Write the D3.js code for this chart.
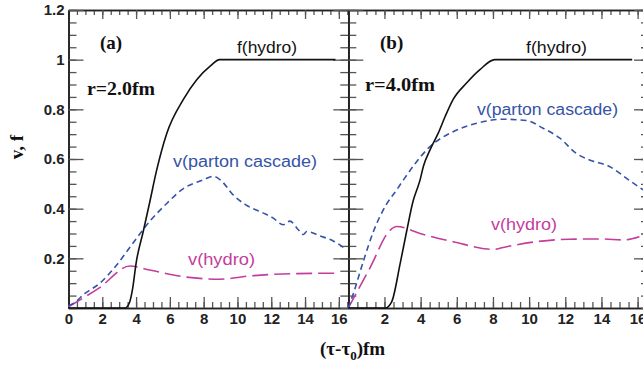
<!DOCTYPE html>
<html>
<head>
<meta charset="utf-8">
<script src="https://cdn.jsdelivr.net/npm/d3@7"></script>
<style>
  body { margin: 0; background: #fff; }
  svg { display: block; }
</style>
</head>
<body>
<script>
// curves, [tau - tau0, value]
const fHydroA = [[0,0],[3.35,0],[3.6,0.02],[3.8,0.08],[4.0,0.18],[4.43,0.31],[4.82,0.43],[5.2,0.55],[5.8,0.70],[6.8,0.84],[7.6,0.92],[8.4,0.975],[8.95,1.0],[15.8,1.0]];
const vCascadeA = [[0,0.01],[0.2,0.015],[1.0,0.06],[1.86,0.10],[2.85,0.173],[3.8,0.26],[4.82,0.35],[5.8,0.42],[6.78,0.48],[7.97,0.516],[8.56,0.53],[9.0,0.515],[9.75,0.455],[10.5,0.415],[11.5,0.383],[12.1,0.363],[12.7,0.335],[13.1,0.35],[13.6,0.315],[13.9,0.296],[14.1,0.308],[14.9,0.29],[15.67,0.27],[16.36,0.24]];
const vHydroA = [[0,0.005],[1.8,0.08],[3.64,0.169],[4.8,0.153],[6.8,0.126],[8.96,0.116],[10.7,0.129],[12.7,0.137],[15.5,0.14],[16.0,0.14]];

const fHydroB = [[0,0],[2.04,0],[2.4,0.025],[2.87,0.18],[3.23,0.31],[3.6,0.435],[3.79,0.476],[3.97,0.516],[4.15,0.57],[4.52,0.637],[4.98,0.705],[5.35,0.77],[5.8,0.84],[6.54,0.906],[7.28,0.96],[8.1,1.0],[15.7,1.0]];
const vCascadeB = [[0,0],[0.29,0.06],[0.84,0.19],[1.4,0.31],[2.13,0.42],[2.68,0.476],[3.05,0.516],[4.52,0.65],[5.8,0.71],[7.1,0.744],[8.56,0.76],[9.85,0.755],[10.77,0.724],[11.7,0.684],[12.6,0.623],[13.34,0.596],[14.44,0.57],[15.5,0.516],[16.3,0.476]];
const vHydroB = [[0,0],[1.2,0.162],[2.32,0.314],[2.68,0.328],[3.97,0.30],[5.8,0.267],[8.0,0.236],[8.75,0.247],[10.4,0.267],[12.2,0.277],[14.07,0.278],[15.2,0.274],[16.1,0.287]];

const xTicksA = [0,2,4,6,8,10,12,14,16];
const xTicksB = [2,4,6,8,10,12,14,16];
const yTicks = [0.2,0.4,0.6,0.8,1,1.2];

const w = 643, h = 368;
const plotTop = 10, plotBottom = 308;
const leftA = 68.5, mid = 348.3, rightB = 649;

const svg = d3.select("body").append("svg")
    .attr("width", w)
    .attr("height", h);

const y = d3.scaleLinear().domain([0, 1.2]).range([plotBottom, plotTop]);
const xA = d3.scaleLinear().domain([0, 16.56]).range([leftA, mid]);
const xB = d3.scaleLinear().domain([0, 16.63]).range([mid, rightB]);

const minorX = d3.range(0, 16.6, 0.5);
const minorY = d3.range(0, 1.21, 0.05);

function drawAxes(x, labels, showY) {
    const g = svg.append("g");
    // bottom
    g.append("g").attr("transform", `translate(0,${plotBottom})`)
        .call(d3.axisBottom(x).tickValues(minorX).tickSize(-6).tickSizeOuter(0).tickFormat(""));
    g.append("g").attr("class", "lab").attr("transform", `translate(0,${plotBottom})`)
        .call(d3.axisBottom(x).tickValues(labels).tickSize(-11).tickSizeOuter(0).tickPadding(5).tickFormat(d3.format("d")));
    // top
    g.append("g").attr("transform", `translate(0,${plotTop})`)
        .call(d3.axisTop(x).tickValues(minorX).tickSize(-5).tickSizeOuter(0).tickFormat(""));
    g.append("g").attr("transform", `translate(0,${plotTop})`)
        .call(d3.axisTop(x).tickValues(xTicksA).tickSize(-9).tickSizeOuter(0).tickFormat(""));
    // left / right
    const x0 = x.range()[0], x1 = x.range()[1];
    g.append("g").attr("transform", `translate(${x0},0)`)
        .call(d3.axisLeft(y).tickValues(minorY).tickSize(-8).tickSizeOuter(0).tickFormat(""));
    g.append("g").attr("class", showY ? "lab" : "").attr("transform", `translate(${x0},0)`)
        .call(d3.axisLeft(y).tickValues(yTicks).tickSize(-15).tickSizeOuter(0).tickPadding(4)
            .tickFormat(showY ? d3.format("~g") : ""));
    g.append("g").attr("transform", `translate(${x1},0)`)
        .call(d3.axisRight(y).tickValues(minorY).tickSize(-8).tickSizeOuter(0).tickFormat(""));
    g.append("g").attr("transform", `translate(${x1},0)`)
        .call(d3.axisRight(y).tickValues(yTicks).tickSize(-15).tickSizeOuter(0).tickFormat(""));
    g.selectAll(".tick line").attr("stroke", "#555").attr("stroke-width", 1.3);
    g.selectAll(".domain").attr("stroke", "#222").attr("stroke-width", 1.6);
    g.selectAll(".lab text")
        .attr("fill", "#222")
        .style("font-family", "'Liberation Sans', Arial, sans-serif")
        .style("font-size", "15px")
        .style("font-weight", "bold");
}

drawAxes(xA, xTicksA, true);
drawAxes(xB, xTicksB, false);

function curve(x, data, color, dash) {
    const line = d3.line().x(d => x(d[0])).y(d => y(d[1])).curve(d3.curveMonotoneX);
    svg.append("path")
        .datum(data)
        .attr("d", line)
        .attr("fill", "none")
        .attr("stroke", color)
        .attr("stroke-width", 1.6)
        .attr("stroke-dasharray", dash);
}

const black = "#111", blue = "#3553a8", magenta = "#c33d9c";
curve(xA, vHydroA, magenta, "16,6");
curve(xA, vCascadeA, blue, "6,4");
curve(xA, fHydroA, black, null);
curve(xB, vHydroB, magenta, "16,6");
curve(xB, vCascadeB, blue, "6,4");
curve(xB, fHydroB, black, null);

// labels
function label(x, yy, txt, opts) {
    const t = svg.append("text")
        .attr("x", x).attr("y", yy)
        .attr("fill", opts.color || "#111")
        .style("font-family", opts.serif ? "'Liberation Serif', 'Times New Roman', serif" : "'Liberation Sans', Arial, sans-serif")
        .style("font-size", opts.size + "px")
        .style("font-weight", opts.bold ? "bold" : "normal")
        .text(txt);
    if (opts.len) t.attr("textLength", opts.len).attr("lengthAdjust", "spacingAndGlyphs");
    return t;
}

label(100, 49, "(a)", {serif: true, bold: true, size: 19});
label(380, 49, "(b)", {serif: true, bold: true, size: 19});
label(87, 95, "r=2.0fm", {serif: true, bold: true, size: 19, len: 68});
label(365, 91, "r=4.0fm", {serif: true, bold: true, size: 19, len: 70});

label(237, 53, "f(hydro)", {size: 16, len: 60});
label(526, 53, "f(hydro)", {size: 16, len: 61});
label(173, 167, "v(parton cascade)", {size: 16, len: 144, color: blue});
label(477, 115, "v(parton cascade)", {size: 16, len: 141, color: blue});
label(188, 265, "v(hydro)", {size: 16, len: 67, color: magenta});
label(491, 230, "v(hydro)", {size: 16, len: 66, color: magenta});

// axis titles
svg.append("text")
    .attr("transform", "translate(23,147) rotate(-90)")
    .attr("text-anchor", "middle")
    .style("font-family", "'Liberation Serif', 'Times New Roman', serif")
    .style("font-size", "19px")
    .style("font-weight", "bold")
    .attr("fill", "#111")
    .text("v, f");

const xt = svg.append("text")
    .attr("x", 320).attr("y", 355)
    .style("font-family", "'Liberation Serif', 'Times New Roman', serif")
    .style("font-size", "19px")
    .style("font-weight", "bold")
    .attr("fill", "#111");
xt.append("tspan").text("(τ-τ");
xt.append("tspan").attr("dy", 5).style("font-size", "13px").text("0");
xt.append("tspan").attr("dy", -5).text(")fm");
</script>
</body>
</html>
